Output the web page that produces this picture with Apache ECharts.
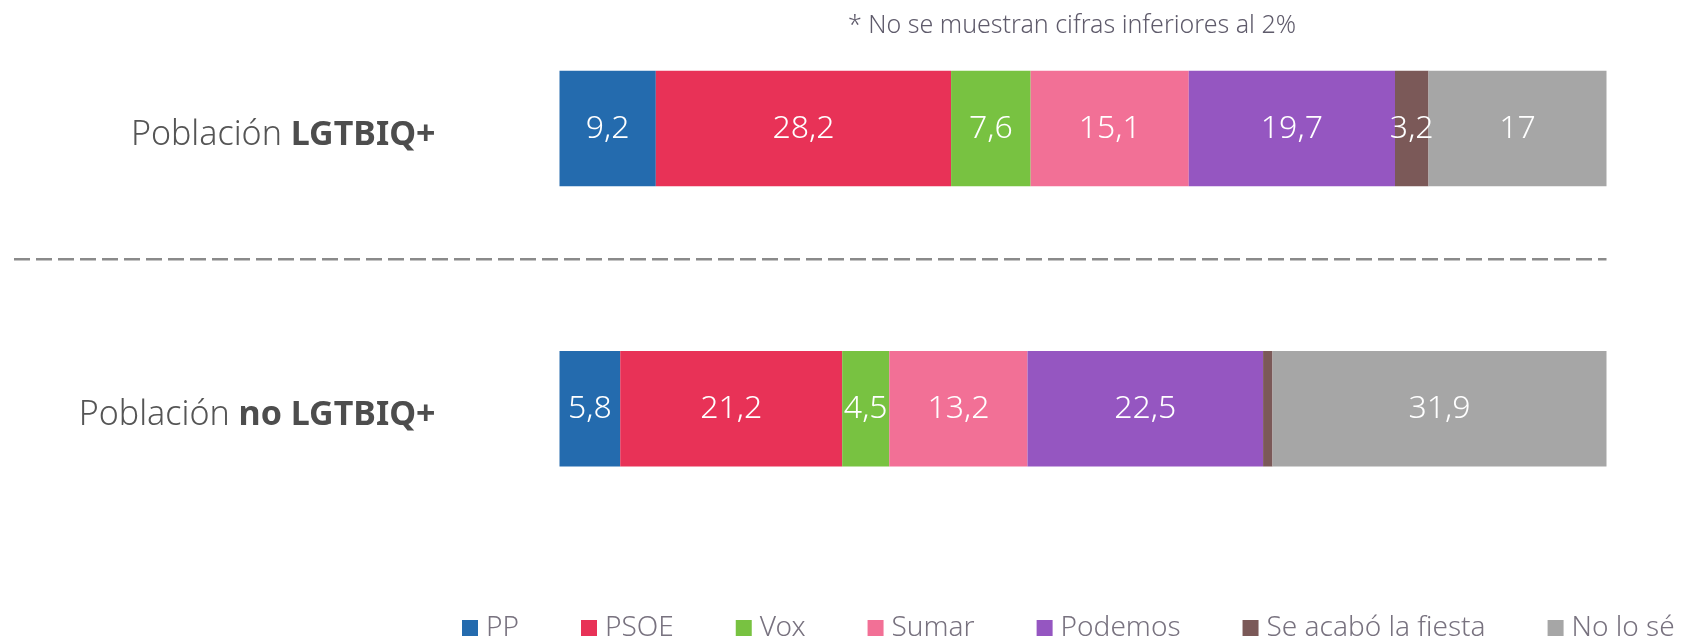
<!DOCTYPE html>
<html>
<head>
<meta charset="utf-8">
<script src="https://cdn.jsdelivr.net/npm/echarts@6/dist/echarts.min.js"></script>
<style>
html,body{margin:0;padding:0;background:#fff;}
#chart{width:1681px;height:637px;}
</style>
</head>
<body>
<div id="chart"></div>
<script>
const categories = ['Población LGTBIQ+', 'Población no LGTBIQ+'];
const seriesNames = ['PP', 'PSOE', 'Vox', 'Sumar', 'Podemos', 'Se acabó la fiesta', 'No lo sé'];
const ppValues = [9.2, 5.8];
const psoeValues = [28.2, 21.2];
const voxValues = [7.6, 4.5];
const sumarValues = [15.1, 13.2];
const podemosValues = [19.7, 22.5];
const salfValues = [3.2, 0.9];
const nsValues = [17, 31.9];
const colors = ['#246BAE', '#E83257', '#78C241', '#F27096', '#9556C1', '#7B5958', '#A6A6A6'];
const note = '* No se muestran cifras inferiores al 2%';

const allValues = [ppValues, psoeValues, voxValues, sumarValues, podemosValues, salfValues, nsValues];
const FONT = '"Noto Sans", sans-serif';

const chart = echarts.init(document.getElementById('chart'));
const series = seriesNames.map((name, i) => ({
  name: name,
  type: 'bar',
  stack: 'total',
  barWidth: 115.5,
  data: allValues[i],
  itemStyle: { color: colors[i] },
  label: {
    show: true,
    position: 'inside',
    color: '#ffffff',
    fontFamily: FONT,
    fontWeight: 300,
    fontSize: 32,
    formatter: p => p.value >= 2 ? String(p.value).replace('.', ',') : ''
  },
  emphasis: { disabled: true },
  animation: false
}));

chart.setOption({
  animation: false,
  title: {
    text: note,
    left: 843,
    top: 8,
    textStyle: { fontFamily: FONT, fontWeight: 300, fontSize: 25, color: '#5f5b6b' }
  },
  grid: { left: 559.5, right: 74.5, top: 128.4, bottom: 228.2, containLabel: false },
  xAxis: { type: 'value', min: 0, max: 100, show: false },
  yAxis: {
    type: 'category',
    data: categories,
    inverse: true,
    boundaryGap: false,
    axisLine: { show: false },
    axisTick: { show: false },
    splitLine: { show: false },
    axisLabel: {
      margin: 124,
      formatter: v => {
        const rest = v.replace('Población ', '');
        return '{a|Población }{b|' + rest + '}';
      },
      rich: {
        a: { fontFamily: FONT, fontWeight: 300, fontSize: 34, color: '#555555', padding: [13, 0, 0, 0] },
        b: { fontFamily: FONT, fontWeight: 'bold', fontSize: 34, color: '#4d4d4d', padding: [13, 0, 0, 0] }
      }
    }
  },
  legend: {
    left: 457,
    top: 609,
    width: 1600,
    itemWidth: 16,
    itemHeight: 16,
    itemGap: 62,
    icon: 'rect',
    data: seriesNames,
    textStyle: { fontFamily: FONT, fontWeight: 300, fontSize: 28, color: '#78727f', padding: [0, 0, 0, 3] }
  },
  graphic: [{
    type: 'line',
    shape: { x1: 14, y1: 259.3, x2: 1606.5, y2: 259.3 },
    style: { stroke: '#8a8a8a', lineWidth: 2.5, lineDash: [16, 6] },
    silent: true
  }],
  series: series
});
</script>
</body>
</html>
